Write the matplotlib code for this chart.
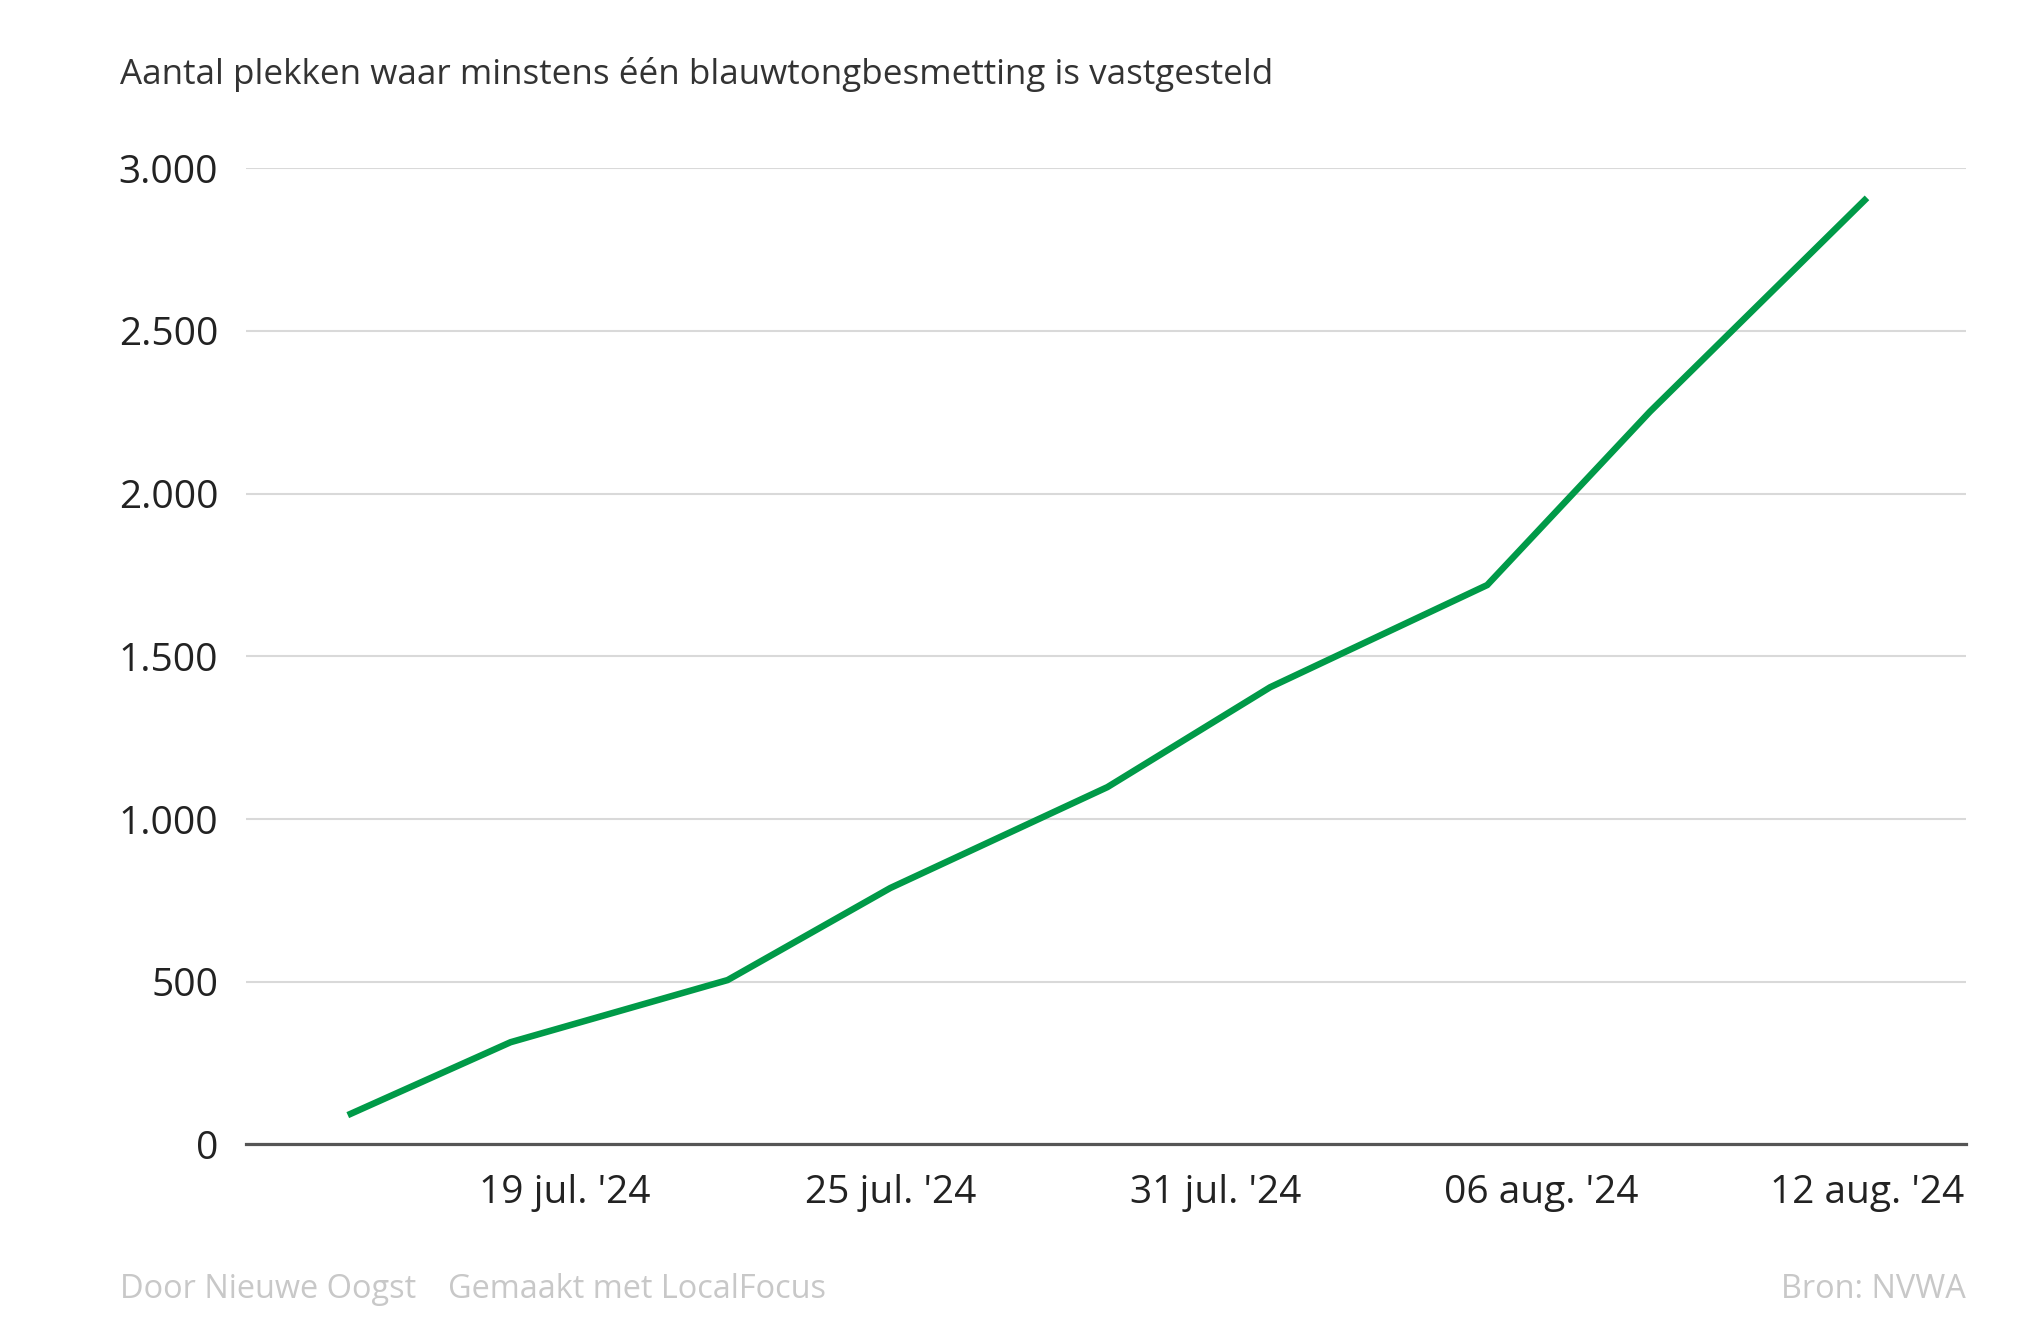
import matplotlib
matplotlib.use("Agg")
import matplotlib.pyplot as plt
from datetime import datetime

plt.rcParams['font.family'] = ['Open Sans', 'DejaVu Sans']

dates = ['2024-07-15', '2024-07-18', '2024-07-22', '2024-07-25', '2024-07-29',
         '2024-08-01', '2024-08-05', '2024-08-08', '2024-08-12']
values = [90, 314, 505, 788, 1098, 1405, 1719, 2252, 2909]
tick_dates = ['2024-07-19', '2024-07-25', '2024-07-31', '2024-08-06', '2024-08-12']
tick_labels = ["19 jul. '24", "25 jul. '24", "31 jul. '24", "06 aug. '24", "12 aug. '24"]
y_ticks = [0, 500, 1000, 1500, 2000, 2500, 3000]
y_labels = ['0', '500', '1.000', '1.500', '2.000', '2.500', '3.000']

x = [datetime.strptime(d, '%Y-%m-%d') for d in dates]
xt = [datetime.strptime(d, '%Y-%m-%d') for d in tick_dates]

fig = plt.figure(figsize=(20.30, 13.29), dpi=100)
ax = fig.add_axes([0.1212, 0.1389, 0.9687 - 0.1212, 0.8734 - 0.1389])

ax.plot(x, values, color='#009a48', linewidth=4.7, solid_capstyle='butt',
        solid_joinstyle='miter', clip_on=False, zorder=3)

ax.set_xlim(datetime(2024, 7, 13, 3), datetime(2024, 8, 13, 20))
ax.set_ylim(0, 3000)
ax.set_yticks(y_ticks)
ax.set_yticklabels(y_labels)
ax.set_xticks(xt)
ax.set_xticklabels(tick_labels)

ax.grid(axis='y', color='#d9d9d9', linewidth=1.5)
ax.set_axisbelow(True)
for s in ['top', 'right', 'left']:
    ax.spines[s].set_visible(False)
ax.spines['bottom'].set_color('#555555')
ax.spines['bottom'].set_linewidth(2.3)
ax.spines['bottom'].set_zorder(4)

ax.tick_params(axis='both', length=0, labelsize=28, labelcolor='#222222')
ax.tick_params(axis='y', pad=20)
ax.tick_params(axis='x', pad=21)

fig.text(120 / 2030, 1 - 75 / 1329, 'Aantal plekken waar minstens één blauwtongbesmetting is vastgesteld',
         fontsize=25.2, color='#333333', va='center', ha='left')

fig.text(120 / 2030, 1 - 1289 / 1329, 'Door Nieuwe Oogst', fontsize=23.4, color='#c8c8c8',
         va='center', ha='left')
fig.text(448 / 2030, 1 - 1289 / 1329, 'Gemaakt met LocalFocus', fontsize=23.4, color='#c8c8c8',
         va='center', ha='left')
fig.text(1966 / 2030, 1 - 1289 / 1329, 'Bron: NVWA', fontsize=23.4, color='#c8c8c8',
         va='center', ha='right')

fig.savefig('out.png', dpi=100, facecolor='white')
